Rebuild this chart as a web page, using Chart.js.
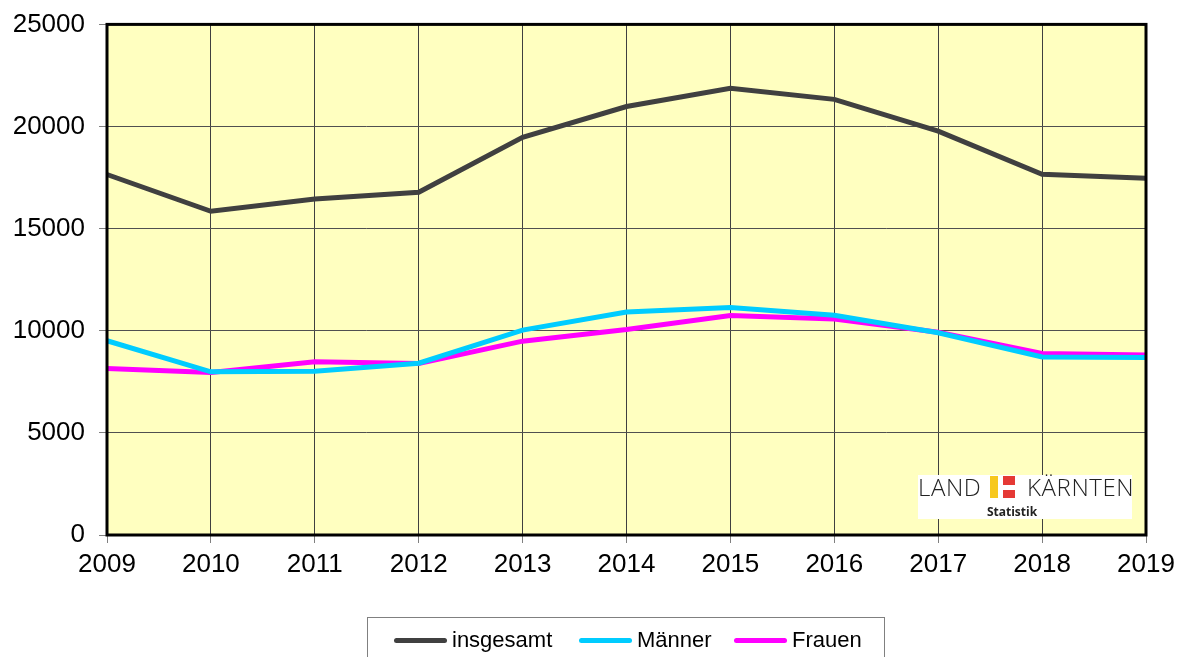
<!DOCTYPE html>
<html>
<head>
<meta charset="utf-8">
<script src="https://cdn.jsdelivr.net/npm/chart.js@4.4.1/dist/chart.umd.min.js"></script>
<style>
    body { margin: 0; background: #fff; font-family: "Liberation Sans", Arial, sans-serif; }
    #wrap { position: relative; width: 1184px; height: 657px; overflow: hidden; }
    #legend {
        position: absolute; left: 367px; top: 617px; width: 518px; height: 60px;
        border: 1px solid #808080; box-sizing: border-box;
    }
    .item { position: absolute; top: 9px; font-size: 22px; line-height: 26px; color: #000; }
    .item span.sw { position: absolute; top: 11px; height: 5px; width: 53px; border-radius: 3px; }
    #logo {
        position: absolute; left: 918px; top: 475px; width: 214px; height: 44px; background: #fff;
    }
    #logo .t { position: absolute; top: -2px; font-family: "Open Sans", sans-serif; font-weight: 300; font-size: 24px; line-height: 28px; color: #222; letter-spacing: 0.6px; }
    #logo .s { position: absolute; top: 30px; left: 0; width: 188px; text-align: center; font-family: "Open Sans", sans-serif; font-weight: 700; font-size: 12px; line-height: 14px; color: #222; }
</style>
</head>
<body>
<div id="wrap">
    <canvas id="chart" width="1184" height="657"></canvas>
    <div id="logo">
        <div class="t" style="left:0">LAND</div>
        <div style="position:absolute;left:72px;top:1px;width:8px;height:22px;background:#f7c81e"></div>
        <div style="position:absolute;left:85px;top:1px;width:12px;height:9px;background:#e53935"></div>
        <div style="position:absolute;left:85px;top:15px;width:12px;height:8px;background:#e53935"></div>
        <div class="t" style="left:109px">KÄRNTEN</div>
        <div class="s">Statistik</div>
    </div>
    <div id="legend"></div>
</div>
<script>
const years = ['2009', '2010', '2011', '2012', '2013', '2014', '2015', '2016', '2017', '2018', '2019'];
const insgesamt = [17650, 15850, 16450, 16780, 19470, 20980, 21870, 21330, 19770, 17660, 17470];
const maenner = [9510, 7990, 8020, 8410, 10030, 10920, 11140, 10760, 9900, 8720, 8690];
const frauen = [8150, 7960, 8480, 8400, 9490, 10060, 10750, 10570, 9930, 8890, 8810];
const yTicks = [0, 5000, 10000, 15000, 20000, 25000];

const seriesNames = ['insgesamt', 'Männer', 'Frauen'];
const seriesColors = ['#404040', '#00ccff', '#ff00ff'];

document.addEventListener("DOMContentLoaded", () => {
    const ctx = document.getElementById('chart').getContext('2d');

    // yellow plot background + thick frame
    const plotFrame = {
        id: 'plotFrame',
        beforeDraw(chart) {
            const a = chart.chartArea, c = chart.ctx;
            c.save();
            c.fillStyle = '#ffffc0';
            c.fillRect(a.left, a.top, a.right - a.left, a.bottom - a.top);
            c.restore();
        },
        afterDatasetsDraw(chart) {
            const a = chart.chartArea, c = chart.ctx;
            c.save();
            c.strokeStyle = '#000';
            c.lineWidth = 3;
            c.strokeRect(a.left, a.top, a.right - a.left, a.bottom - a.top);
            c.restore();
        }
    };

    const data = [insgesamt, maenner, frauen];

    new Chart(ctx, {
        type: 'line',
        data: {
            labels: years,
            datasets: seriesNames.map((name, i) => ({
                label: name,
                data: data[i],
                borderColor: seriesColors[i],
                backgroundColor: seriesColors[i],
                borderWidth: 5,
                pointRadius: 0,
                tension: 0,
                fill: false
            }))
        },
        options: {
            responsive: false,
            animation: false,
            layout: { padding: { left: 0, top: 21, right: 38, bottom: 0 } },
            plugins: {
                legend: { display: false },
                tooltip: { enabled: false }
            },
            scales: {
                x: {
                    offset: false,
                    grid: { color: '#404040', lineWidth: 1, tickLength: 8, tickColor: '#808080' },
                    border: { display: false },
                    ticks: {
                        color: '#000', padding: 6, maxRotation: 0, autoSkip: false,
                        font: { family: '"Liberation Sans", Arial', size: 26 }
                    },
                    afterFit: s => { s.height = 122; }
                },
                y: {
                    min: 0, max: 25000,
                    afterBuildTicks: s => { s.ticks = yTicks.map(v => ({ value: v })); },
                    grid: { color: '#505050', lineWidth: 1, tickLength: 8, tickColor: '#808080' },
                    border: { display: false },
                    ticks: {
                        color: '#000', padding: 14,
                        font: { family: '"Liberation Sans", Arial', size: 26, lineHeight: 0.8 },
                        callback: v => String(v)
                    },
                    afterFit: s => { s.width = 107; }
                }
            }
        },
        plugins: [plotFrame]
    });

    // legend
    const legend = document.getElementById('legend');
    const swLeft = [26, 211, 366];
    seriesNames.forEach((name, i) => {
        const it = document.createElement('div');
        it.className = 'item';
        it.style.left = swLeft[i] + 'px';
        it.style.paddingLeft = '58px';
        it.innerHTML = '<span class="sw" style="left:0;background:' + seriesColors[i] + '"></span>' + name;
        legend.appendChild(it);
    });
});
</script>
</body>
</html>
